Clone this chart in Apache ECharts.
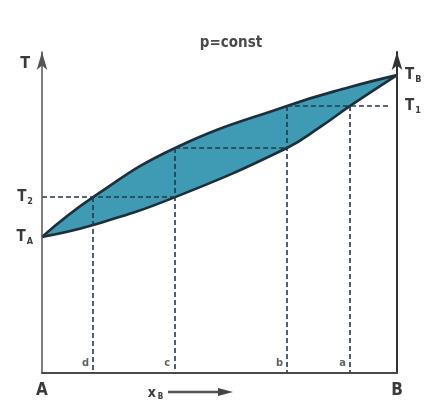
<!DOCTYPE html>
<html>
<head>
<meta charset="utf-8">
<script src="https://cdn.jsdelivr.net/npm/echarts@6/dist/echarts.min.js"></script>
<style>
  html, body { margin: 0; padding: 0; background: #fff; }
  #chart { width: 432px; height: 410px; }
</style>
</head>
<body>
<div id="chart"></div>
<script>
// Boiling diagram of a binary mixture A–B at constant pressure.
// Composition x_B runs 0..1, temperature in relative units 0..100.

// Dew (vapour) curve
const dewX = [0, 0.144, 0.375, 0.690, 0.868, 1];
const dewT = [42.4, 54.8, 70.1, 83.2, 89.1, 92.8];

// Boiling (liquid) curve
const boilX = [0, 0.144, 0.375, 0.690, 0.783, 0.868, 1];
const boilT = [42.4, 46.1, 54.8, 70.1, 76.6, 83.2, 92.8];

// Pure-component boiling points and tie-line temperatures
const T_A = 42.4;
const T_B = 92.8;
const T_2 = 54.8;
const T_mid = 70.1;
const T_1 = 83.2;

// Compositions marked on the x axis
const compNames = ['d', 'c', 'b', 'a'];
const compX = [0.144, 0.375, 0.690, 0.868];
// Top end of each vertical drop line
const compTop = [T_2, T_mid, T_1, T_1];

const FONT = "'Liberation Sans Narrow', 'DejaVu Sans Condensed', 'Liberation Sans', sans-serif";
const INK = '#3a3a3a';
const FILL = '#3f9bb3';
const EDGE = '#1d2f3a';
const DASH = '#24384a';

const zip = (xs, ys) => xs.map((x, i) => [x, ys[i]]);

const tLabel = (main, sub) => '{t|' + main + '}{s|' + sub + '}';
const tRich = {
  t: { fontFamily: FONT, fontSize: 15, fontWeight: 'bold', color: INK },
  s: { fontFamily: FONT, fontSize: 9, fontWeight: 'bold', color: INK, padding: [10, 0, 0, 1] }
};

// Dashed construction lines: drops to the axis and horizontal tie lines
const dropLines = compX.map((x, i) => [{ coord: [x, compTop[i]] }, { coord: [x, 0] }]);
const tieLines = [
  [{ coord: [0, T_2] }, { coord: [compX[1], T_2] }],
  [{ coord: [compX[1], T_mid] }, { coord: [compX[2], T_mid] }],
  [{ coord: [compX[2], T_1] }, { coord: [0.98, T_1] }]
];

const chart = echarts.init(document.getElementById('chart'), null, { renderer: 'canvas' });

chart.setOption({
  animation: false,
  backgroundColor: '#ffffff',
  title: {
    text: 'p=const',
    left: 226,
    top: 31,
    textAlign: 'center',
    textStyle: { fontFamily: FONT, fontSize: 15, fontWeight: 'bold', color: '#4a4a4a' }
  },
  grid: { left: 42, right: 35, top: 52, bottom: 37, containLabel: false, outerBoundsMode: 'none' },
  xAxis: [{
    type: 'value',
    min: 0, max: 1,
    z: 10,
    axisLine: { show: true, onZero: false, lineStyle: { color: '#4a4a4a', width: 2 } },
    axisTick: { show: false },
    splitLine: { show: false },
    axisLabel: {
      customValues: [0, 1],
      formatter: v => (v === 0 ? 'A' : 'B'),
      margin: 9,
      fontFamily: FONT, fontSize: 17, fontWeight: 'bold', color: INK
    },
    name: '{t|x}{s|B}',
    nameLocation: 'middle',
    nameGap: 12,
    nameMoveOverlap: false,
    nameTextStyle: {
      padding: [0, 128, 0, 0],
      rich: {
        t: { fontFamily: FONT, fontSize: 14, fontWeight: 'bold', color: INK },
        s: { fontFamily: FONT, fontSize: 8, fontWeight: 'bold', color: INK, padding: [8, 0, 0, 2] }
      }
    }
  }],
  yAxis: [{
    type: 'value',
    position: 'left',
    min: 0, max: 100,
    z: 10,
    axisLine: {
      show: true, onZero: false,
      symbol: ['none', 'arrow'], symbolSize: [8, 18],
      lineStyle: { color: '#555', width: 1.5 }
    },
    axisTick: { show: false },
    splitLine: { show: false },
    axisLabel: {
      customValues: [T_A, T_2],
      formatter: v => (v === T_A ? tLabel('T', 'A') : tLabel('T', '2')),
      margin: 9,
      rich: tRich
    },
    name: 'T',
    nameLocation: 'end',
    nameGap: -12,
    nameTextStyle: {
      fontFamily: FONT, fontSize: 16, fontWeight: 'bold', color: INK,
      align: 'right', verticalAlign: 'middle', padding: [0, 12, 0, 0]
    }
  }, {
    type: 'value',
    position: 'right',
    min: 0, max: 100,
    z: 10,
    axisLine: {
      show: true, onZero: false,
      symbol: ['none', 'arrow'], symbolSize: [8, 18],
      lineStyle: { color: '#333', width: 2 }
    },
    axisTick: { show: false },
    splitLine: { show: false },
    axisLabel: {
      customValues: [T_1, T_B],
      formatter: v => (v === T_B ? tLabel('T', 'B') : tLabel('T', '1')),
      margin: 8,
      rich: tRich
    }
  }],
  series: [
    {
      // two-phase region: filled down from the dew curve
      name: 'dew',
      type: 'line',
      data: zip(dewX, dewT),
      smooth: 0.45,
      symbol: 'none',
      z: 2,
      lineStyle: { color: EDGE, width: 2.6 },
      areaStyle: { color: FILL, opacity: 1, origin: 'start' }
    },
    {
      // white below the boiling curve closes the lens
      name: 'boil',
      type: 'line',
      data: zip(boilX, boilT),
      smooth: 0.45,
      symbol: 'none',
      z: 3,
      lineStyle: { color: EDGE, width: 2.6 },
      areaStyle: { color: '#ffffff', opacity: 1, origin: 'start' }
    },
    {
      // construction lines and composition letters
      name: 'construction',
      type: 'scatter',
      z: 5,
      symbolSize: 0,
      data: compX.map((x, i) => ({ value: [x, 0], name: compNames[i] })),
      label: {
        show: true,
        formatter: p => p.name,
        position: [-11, -15],
        fontFamily: FONT, fontSize: 11, fontWeight: 'bold', color: INK
      },
      markLine: {
        silent: true,
        symbol: ['none', 'none'],
        label: { show: false },
        lineStyle: { color: DASH, type: [5, 3], width: 1.6 },
        data: dropLines.concat(tieLines)
      }
    }
  ]
});

// arrow after the x_B axis name
const y0 = 392;
chart.setOption({
  graphic: [
    { type: 'line', shape: { x1: 168, y1: y0, x2: 222, y2: y0 }, style: { stroke: '#555', lineWidth: 2.5 } },
    { type: 'polygon', shape: { points: [[218, y0 - 4], [233, y0], [218, y0 + 4]] }, style: { fill: '#444' } }
  ]
});
</script>
</body>
</html>
